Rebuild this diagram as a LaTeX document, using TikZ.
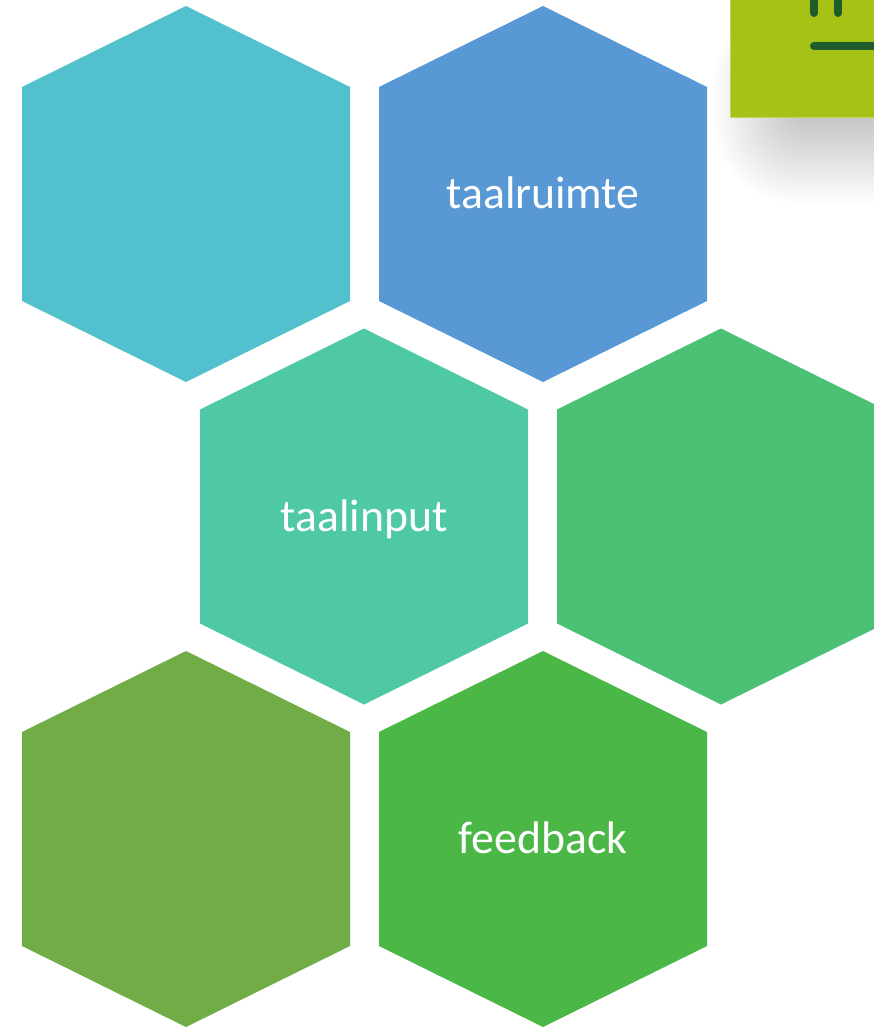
\documentclass[tikz,border=0pt]{standalone}
\usepackage{fontspec}
\setmainfont{Carlito}
\definecolor{hexa}{HTML}{52C0CD}
\definecolor{hexb}{HTML}{5899D5}
\definecolor{hexc}{HTML}{4FC8A6}
\definecolor{hexd}{HTML}{4CC176}
\definecolor{hexe}{HTML}{70AD47}
\definecolor{hexf}{HTML}{4BB747}
\definecolor{tilefill}{HTML}{A6C217}
\definecolor{tileedge}{HTML}{C2D65A}
\definecolor{tilemark}{HTML}{1F5C2C}
\tikzset{
  hexlabel/.style={text=white,font=\fontsize{45.7}{54}\selectfont,inner sep=0pt,anchor=base},
  tilemarkline/.style={draw=tilemark,line width=8pt,line cap=round}
}
\newcommand{\hexshape}[5]{%
  \fill[#4] (#2,#3-188) -- (#2+164,#3-107) -- (#2+164,#3+107) -- (#2,#3+188)
    -- (#2-164,#3+107) -- (#2-164,#3-107) -- cycle;
  \node[hexlabel] (#1) at (#2,#3+14.5) {#5};
}
\begin{document}
\begin{tikzpicture}[x=1pt,y=-1pt]
\clip (0,0) rectangle (874,1027);
\fill[white] (0,0) rectangle (874,1027);
\foreach \r in {0,2,...,58}{
  \fill[black,opacity=0.0075,rounded corners=1.3*\r pt+8pt]
    (800-1.5*\r,60-\r) rectangle (1000,116+1.5*\r);
}
\hexshape{h1}{186}{194}{hexa}{}
\hexshape{h2}{543}{194}{hexb}{taalruimte}
\hexshape{h3}{364}{516.5}{hexc}{taalinput}
\hexshape{h4}{721}{516.5}{hexd}{}
\hexshape{h5}{186}{839}{hexe}{}
\hexshape{h6}{543}{839}{hexf}{feedback}
\fill[tilefill,draw=tileedge,line width=1pt] (730,-10) rectangle (890,118);
\draw[tilemarkline] (814,-5) -- (814,13);
\draw[tilemarkline] (838,-5) -- (838,13);
\draw[tilemarkline] (814,46) -- (890,46);
\end{tikzpicture}
\end{document}
